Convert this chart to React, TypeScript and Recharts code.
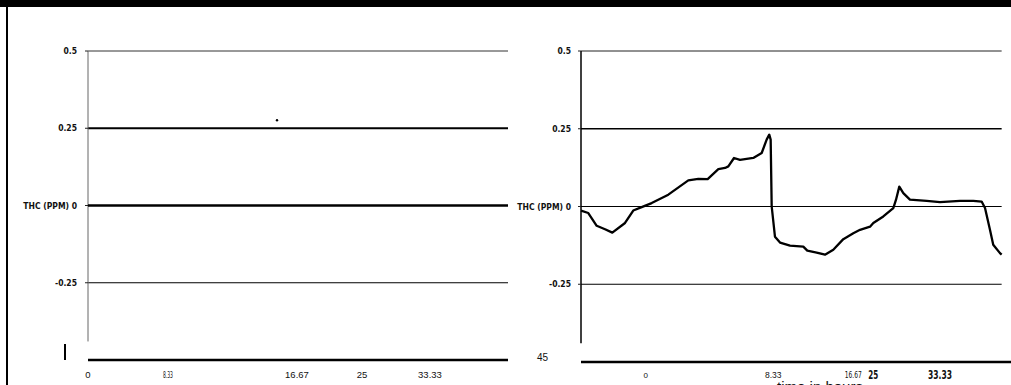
import React from 'react';
import { LineChart, Line, XAxis, YAxis, ReferenceLine, ReferenceDot, Label } from 'recharts';

// ---- data ----
const yTicks = [0.5, 0.25, 0, -0.25];
const yTickLabels = ['0.5', '0.25', 'THC (PPM) 0', '-0.25'];

const leftHours = [0, 45];
const leftThc = [0, 0];
const leftTickAt = [0, 8.57, 22.39, 29.36, 36.64];
const leftTickLabels = ['0', '8.33', '16.67', '25', '33.33'];
const leftStrayPoint = { hour: 20.25, thc: 0.276 };

const rightHours = [
  0, 0.78, 1.68, 2.57, 3.35, 4.71, 5.59, 6.49, 7.56, 9.34, 11.48, 12.55, 13.55, 14.69, 15.41,
  15.76, 16.37, 17.01, 18.43, 19.33, 19.86, 20.14, 20.29, 20.4, 20.75, 21.29, 22.36, 23.78,
  24.21, 25.21, 26.1, 26.99, 28.06, 29.13, 29.85, 30.92, 31.27, 32.34, 33.41, 33.7, 34.05,
  34.48, 35.19, 36.98, 38.4, 40.54, 41.97, 42.86, 43.22, 43.75, 44.1, 44.82, 45.0,
];
const rightThc = [
  -0.013, -0.021, -0.062, -0.073, -0.084, -0.053, -0.013, -0.002, 0.011, 0.038, 0.084, 0.089,
  0.088, 0.12, 0.124, 0.129, 0.156, 0.15, 0.156, 0.172, 0.215, 0.231, 0.215, 0.0, -0.097,
  -0.116, -0.126, -0.129, -0.142, -0.148, -0.155, -0.139, -0.105, -0.086, -0.075, -0.065,
  -0.053, -0.032, -0.005, 0.022, 0.064, 0.043, 0.022, 0.018, 0.014, 0.018, 0.018, 0.016,
  -0.005, -0.075, -0.123, -0.15, -0.155,
];
const rightTickAt = [6.92, 20.57, 29.13, 31.27, 38.4];
const rightTickLabels = ['0', '8.33', '16.67', '25', '33.33'];
const xTitle = 'time in hours';
const strayLabel = '45';

const leftData = leftHours.map((h, i) => ({ hour: h, thc: leftThc[i] }));
const rightData = rightHours.map((h, i) => ({ hour: h, thc: rightThc[i] }));

const NARROW = '"Liberation Sans Narrow", "Arial Narrow", "DejaVu Sans Condensed", sans-serif';
const SANS = '"Liberation Sans", Arial, sans-serif';

const YTick = (props: any) => {
  const { x, y, payload, index } = props;
  return (
    <text x={x} y={y} dy="0.355em" textAnchor="end" fontFamily={NARROW} fontWeight="bold" fontSize={8.5} fill="#111">
      {yTickLabels[index] ?? String(payload.value)}
    </text>
  );
};

const LeftXTick = (props: any) => {
  const { x, y, index } = props;
  const narrow = index === 1;
  return (
    <text
      x={x}
      y={y + 13}
      dy="0.355em"
      textAnchor="middle"
      fontFamily={narrow ? NARROW : SANS}
      fontSize={narrow ? 8 : 9.5}
      fill="#111"
      {...(narrow ? { textLength: 10, lengthAdjust: 'spacingAndGlyphs' } : {})}
    >
      {leftTickLabels[index]}
    </text>
  );
};

const RightXTick = (props: any) => {
  const { x, y, index } = props;
  let family = SANS;
  let size = 8.5;
  let weight: any = 'normal';
  let squeeze: any = {};
  if (index === 0) size = 8;
  if (index === 2) { family = NARROW; size = 8; squeeze = { textLength: 17, lengthAdjust: 'spacingAndGlyphs' }; }
  if (index >= 3) {
    family = NARROW;
    size = 12;
    weight = 'bold';
    squeeze = { textLength: index === 3 ? 10 : 24, lengthAdjust: 'spacingAndGlyphs' };
  }
  return (
    <text x={x} y={y + 11} dy="0.355em" textAnchor="middle" fontFamily={family} fontSize={size} fontWeight={weight} fill="#111" {...squeeze}>
      {rightTickLabels[index]}
    </text>
  );
};

export default function App() {
  return (
    <div style={{ position: 'fixed', left: 0, top: 0, width: 1011, height: 385, background: '#fff', overflow: 'hidden' }}>
      <div style={{ position: 'absolute', left: 0, top: 0, width: 1011, height: 7, background: '#000' }} />
      <div style={{ position: 'absolute', left: 6, top: 7, width: 1.5, height: 378, background: '#000' }} />
      <div style={{ position: 'absolute', left: 64, top: 344, width: 2, height: 16, background: '#000' }} />

      <div style={{ position: 'absolute', left: 0, top: 0 }}>
        <LineChart width={520} height={385} data={leftData} margin={{ top: 51, right: 12, bottom: 0, left: 0 }}>
          <XAxis
            dataKey="hour"
            type="number"
            domain={[0, 45]}
            ticks={leftTickAt}
            interval={0}
            tickSize={0}
            tickLine={false}
            axisLine={{ stroke: '#000', strokeWidth: 2.5 }}
            tick={<LeftXTick />}
            height={25}
          />
          <YAxis
            type="number"
            domain={[-0.5, 0.5]}
            ticks={yTicks}
            interval={0}
            width={88}
            axisLine={false}
            tickSize={3}
            tickMargin={8}
            tickLine={{ stroke: '#222' }}
            tick={<YTick />}
          />
          <ReferenceLine y={0.5} stroke="#333" strokeWidth={1} />
          <ReferenceLine y={0.25} stroke="#000" strokeWidth={1.8} />
          <ReferenceLine y={-0.25} stroke="#000" strokeWidth={1} />
          <ReferenceLine segment={[{ x: 0, y: 0.5 }, { x: 0, y: -0.44 }]} stroke="#666" strokeWidth={1} />
          <ReferenceDot x={leftStrayPoint.hour} y={leftStrayPoint.thc} r={1.2} fill="#000" stroke="none" />
          <Line dataKey="thc" stroke="#000" strokeWidth={2.6} dot={false} isAnimationActive={false} />
        </LineChart>
      </div>

      <div style={{ position: 'absolute', left: 537, top: 352, fontFamily: SANS, fontSize: 10, color: '#111' }}>{strayLabel}</div>

      <div style={{ position: 'absolute', left: 500, top: 0 }}>
        <LineChart width={511} height={385} data={rightData} margin={{ top: 51, right: 0, bottom: 0, left: 0 }}>
          <XAxis
            dataKey="hour"
            type="number"
            domain={[0, 46]}
            ticks={rightTickAt}
            interval={0}
            tickSize={0}
            tickLine={false}
            axisLine={{ stroke: '#000', strokeWidth: 2.5 }}
            tick={<RightXTick />}
            height={23}
          >
            <Label value={xTitle} position="insideBottom" offset={-7} dx={24} fontFamily={SANS} fontSize={15} fill="#111" />
          </XAxis>
          <YAxis
            type="number"
            domain={[-0.5, 0.5]}
            ticks={yTicks}
            interval={0}
            width={81}
            axisLine={false}
            tickSize={3}
            tickMargin={7}
            tickLine={{ stroke: '#222' }}
            tick={<YTick />}
          />
          <ReferenceLine segment={[{ x: 0, y: 0.5 }, { x: 45, y: 0.5 }]} stroke="#222" strokeWidth={1} />
          <ReferenceLine segment={[{ x: 0, y: 0.25 }, { x: 45, y: 0.25 }]} stroke="#000" strokeWidth={1.5} />
          <ReferenceLine segment={[{ x: 0, y: 0 }, { x: 45, y: 0 }]} stroke="#000" strokeWidth={1} />
          <ReferenceLine segment={[{ x: 0, y: -0.25 }, { x: 45, y: -0.25 }]} stroke="#000" strokeWidth={1.2} />
          <ReferenceLine segment={[{ x: 0, y: 0.5 }, { x: 0, y: -0.44 }]} stroke="#000" strokeWidth={1.5} />
          <Line dataKey="thc" stroke="#000" strokeWidth={2.3} dot={false} isAnimationActive={false} strokeLinejoin="round" />
        </LineChart>
      </div>
    </div>
  );
}
